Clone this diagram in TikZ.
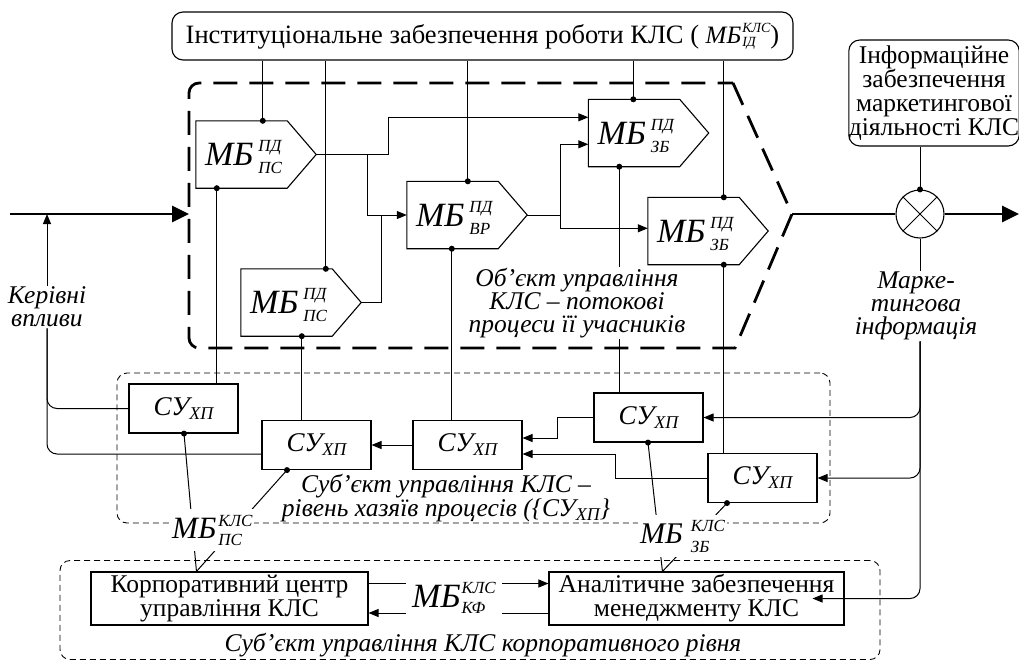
\documentclass[tikz,border=0pt]{standalone}
\usepackage{fontspec}
\setmainfont{Liberation Serif}
\usetikzlibrary{arrows.meta,calc}
\newsavebox\mbsup
\newsavebox\mbsub
% #1 size of MB, #2 gap, #3 raise sup, #4 lower sub, #5 sup, #6 sub, #7 script size
\newcommand{\mbl}[7]{%
  \sbox\mbsup{\fontsize{#7}{#7}\selectfont\itshape #5}%
  \sbox\mbsub{\fontsize{#7}{#7}\selectfont\itshape #6}%
  {\fontsize{#1}{#1}\selectfont\itshape МБ}\kern#2pt%
  \rlap{\raisebox{#3pt}{\usebox\mbsup}}\raisebox{-#4pt}{\usebox\mbsub}%
  \ifdim\wd\mbsup>\wd\mbsub\kern\dimexpr\wd\mbsup-\wd\mbsub\relax\fi}
\newcommand{\suxp}{{\itshape СУ}\raisebox{-4pt}{\fontsize{18}{18}\selectfont\itshape ХП}}
\newcommand{\mbnode}[5]{%
  \node[mbbox] (#1) at (#2,#3) {};
  \draw[shp] (#1.north west) -- (#1.north east) -- ([xshift=29pt]#1.east) -- (#1.south east) -- (#1.south west) -- cycle;
  \coordinate (#1tip) at ([xshift=29pt]#1.east);
  \node[anchor=base west,inner sep=0pt] (#1l) at ([xshift=9pt,yshift=-11pt]#1.west) {\mbl{34}{5}{14}{8}{#4}{#5}{17}};
}
\begin{document}
\begin{tikzpicture}[x=1pt,y=-1pt,
  ln/.style={line width=1pt},
  arr/.style={ln,-{Triangle[length=10pt,width=8pt]}},
  bigarr/.style={line width=2.8pt,-{Triangle[length=17pt,width=16pt]}},
  box/.style={draw,line width=1.1pt,inner sep=0pt,align=center,font=\fontsize{25.5}{24}\selectfont},
  mbbox/.style={minimum width=91pt,minimum height=67pt,inner sep=0pt},
  shp/.style={line width=1.1pt,line join=miter},
  lab/.style={align=center,font=\fontsize{25.5}{23}\selectfont\itshape,inner sep=1pt},
  region/.style={draw,line width=0.9pt,dash pattern=on 6pt off 4pt,rounded corners=10pt,inner sep=0pt},
  subox/.style={box,minimum width=109pt,minimum height=49pt,font=\fontsize{27}{27}\selectfont}
]
\useasboundingbox (0,0) rectangle (1019,662);

% regions
\node[region,minimum width=713pt,minimum height=150pt] (reg2) at (473.5,448) {};
\node[region,minimum width=820pt,minimum height=99pt] (reg3) at (470,610) {};

% object region (thick dashed)
\coordinate (objtip) at (792,214);
\coordinate (objleft) at (189,214);
\coordinate (in) at (10,214);
\coordinate (out) at (1019,214);
\draw[line width=2.8pt,dash pattern=on 24pt off 12pt] (733,83) -- (objtip) -- (735,348) -- (199,348)
  arc[start angle=270,end angle=180,radius=10pt] -- (189,93)
  arc[start angle=180,end angle=90,radius=10pt] -- cycle;

% top boxes
\node[box,rounded corners=11pt,minimum width=621pt,minimum height=48pt,font=\fontsize{26.5}{24}\selectfont] (inst) at (482.5,36)
  {Інституціональне забезпечення роботи КЛС ( \mbl{25}{1}{11}{3}{КЛС}{ІД}{14})};
\node[box,rounded corners=11pt,minimum width=166pt,minimum height=106pt] (info) at (934,93)
  {Інформаційне\\забезпечення\\маркетингової\\діяльності КЛС};

% MB nodes
\mbnode{mb1}{241.5}{154.5}{ПД}{ПС}
\mbnode{mb2}{286.5}{302.5}{ПД}{ПС}
\mbnode{mb3}{452.5}{215}{ПД}{ВР}
\mbnode{mb4}{634}{133}{ПД}{ЗБ}
\mbnode{mb5}{693.5}{231}{ПД}{ЗБ}

% SU nodes
\node[subox] (su1) at (183.5,408.5) {\suxp};
\node[subox] (su2) at (316.5,445) {\suxp};
\node[subox] (su3) at (467.5,445) {\suxp};
\node[subox] (su4) at (648.5,417.5) {\suxp};
\node[subox] (su5) at (762.5,478) {\suxp};

% corporate boxes
\node[box,minimum width=277pt,minimum height=53pt] (kc) at (229.5,598.5) {Корпоративний центр\\управління КЛС};
\node[box,minimum width=295pt,minimum height=53pt] (an) at (696.5,598.5) {Аналітичне забезпечення\\менеджменту КЛС};

% mixer
\node[circle,draw,line width=1.1pt,minimum size=48pt,inner sep=0pt] (mix) at (920,214) {};
\draw[line width=1pt] (mix.north west) -- (mix.south east) (mix.north east) -- (mix.south west);

% main flow
\draw[bigarr] (in) -- (objleft);
\draw[line width=2.8pt] (objtip) -- (mix.west);
\draw[bigarr] (mix.east) -- (out);

% institutional lines to MB tops
\foreach \n/\o in {mb1/67,mb2/85,mb3/61,mb4/45,mb5/76}{
  \coordinate (\n-t) at ([xshift=\o pt]\n.north west);
  \draw[ln] (inst.south -| \n-t) -- (\n-t);
  \fill (\n-t) circle (3pt);
}
% MB bottoms to SU
\foreach \n/\o/\s in {mb1/21/su1,mb2/61/su2,mb3/45/su3,mb4/31/su4,mb5/76/su5}{
  \coordinate (\n-b) at ([xshift=\o pt]\n.south west);
  \draw[ln] (\n-b) -- (\n-b |- \s.north);
  \fill (\n-b) circle (3pt);
}

% flows between MB nodes
\coordinate (j1) at ([xshift=72pt]mb1tip);
\coordinate (j2) at ([xshift=51pt]mb1tip);
\coordinate (j3) at ([xshift=20pt]mb2tip);
\coordinate (j4) at ([xshift=33pt]mb3tip);
\coordinate (m4a) at ([yshift=-18pt]mb4.north west);
\coordinate (m4b) at ([yshift=-45pt]mb4.north west);
\coordinate (m5a) at ([yshift=-31pt]mb5.north west);
\draw[arr] (mb1tip) -- (j1) -- (j1 |- m4a) -- (m4a);
\draw[arr] (j2) -- (j2 |- mb3.west) -- (mb3.west);
\draw[ln] (mb2tip) -- (j3) -- (j3 |- mb3.west);
\draw[arr] (mb3tip) -- (j4) -- (j4 |- m4b) -- (m4b);
\draw[arr] (j4) -- (j4 |- m5a) -- (m5a);

% SU flows
\coordinate (s3a) at ([yshift=7pt]su3.east);
\coordinate (s3b) at ([yshift=-9pt]su3.east);
\coordinate (k4) at ([xshift=-36pt]su4.west);
\coordinate (k5) at ([xshift=-92pt]su5.west);
\draw[arr] (su3.west) -- (su2.east);
\draw[arr] (su4.west) -- (k4) |- (s3a);
\draw[arr] (su5.west) -- (k5) |- (s3b);

% control influences
\node[lab] (kv) at (47,307) {Керівні\\впливи};
\coordinate (s2in) at ([yshift=-9pt]su2.west);
\draw[arr] (kv.north) -- (kv.north |- objleft);
\draw[ln,rounded corners=10pt] (kv.south) -- (kv.south |- su1.west) -- (su1.west);
\draw[ln,rounded corners=10pt] (kv.south) -- (kv.south |- s2in) -- (s2in);

% marketing information
\node[lab] (mi) at (916,306) {Марке-\\тингова\\інформація};
\coordinate (mvt) at (mix.south |- mi.north);
\coordinate (mv) at (mix.south |- mi.south);
\coordinate (anin) at ([xshift=-32pt]an.east);
\draw[ln] (info.south -| mix.north) -- (mix.north);
\fill (mix.north) circle (3pt);
\draw[ln] (mix.south) -- (mvt);
\draw[arr,rounded corners=10pt] (mv) |- (su4.east);
\draw[arr,rounded corners=10pt] (mv) |- (su5.east);
\draw[arr,rounded corners=10pt] (mv) |- (anin);

% SU to corporate level
\coordinate (s1d) at ([xshift=0.5pt]su1.south);
\coordinate (s2d) at ([xshift=-29.5pt]su2.south);
\coordinate (s4d) at ([xshift=-0.5pt]su4.south);
\coordinate (s5d) at ([xshift=-35.5pt]su5.south);
\coordinate (kct) at ([xshift=106pt]kc.north west);
\coordinate (ant) at ([xshift=114pt]an.north west);
\draw[ln] (s1d) -- (kct);
\draw[ln] (s2d) -- (kct);
\draw[ln] (s4d) -- (ant);
\draw[ln] (s5d) -- (ant);
\foreach \p in {s1d,s2d,s4d,s5d} \fill (\p) circle (3pt);

% corporate exchange
\coordinate (kca) at ([yshift=15pt]kc.east);
\coordinate (kcb) at ([yshift=-14.5pt]kc.east);
\draw[arr] (kca) -- (kca -| an.west);
\draw[arr] (kcb -| an.west) -- (kcb);

% texts
\node[lab,fill=white] (objt) at (577,303) {Об'єкт управління\\КЛС – потокові\\процеси її учасників};
\node[lab] (subt) at (446,498) {Суб'єкт управління КЛС –\\рівень хазяїв процесів (\{\suxp\}};
\node[lab] (corpt) at (483,645) {Суб'єкт управління КЛС корпоративного рівня};

% MB labels over lines
\node[anchor=base west,fill=white,inner xsep=2pt,inner ysep=6pt] (lps) at (170,538) {\mbl{31}{2}{12}{7}{КЛС}{ПС}{17}};
\node[anchor=base west,fill=white,inner xsep=2pt,inner ysep=5pt] (lzb) at (638,543) {\mbl{30}{8}{12}{9}{КЛС}{ЗБ}{17}};
\node[anchor=base west,fill=white,inner xsep=6pt,inner ysep=3pt] (lkf) at (406,607) {\mbl{34}{1}{14}{6}{КЛС}{КФ}{17}};
\end{tikzpicture}
\end{document}
